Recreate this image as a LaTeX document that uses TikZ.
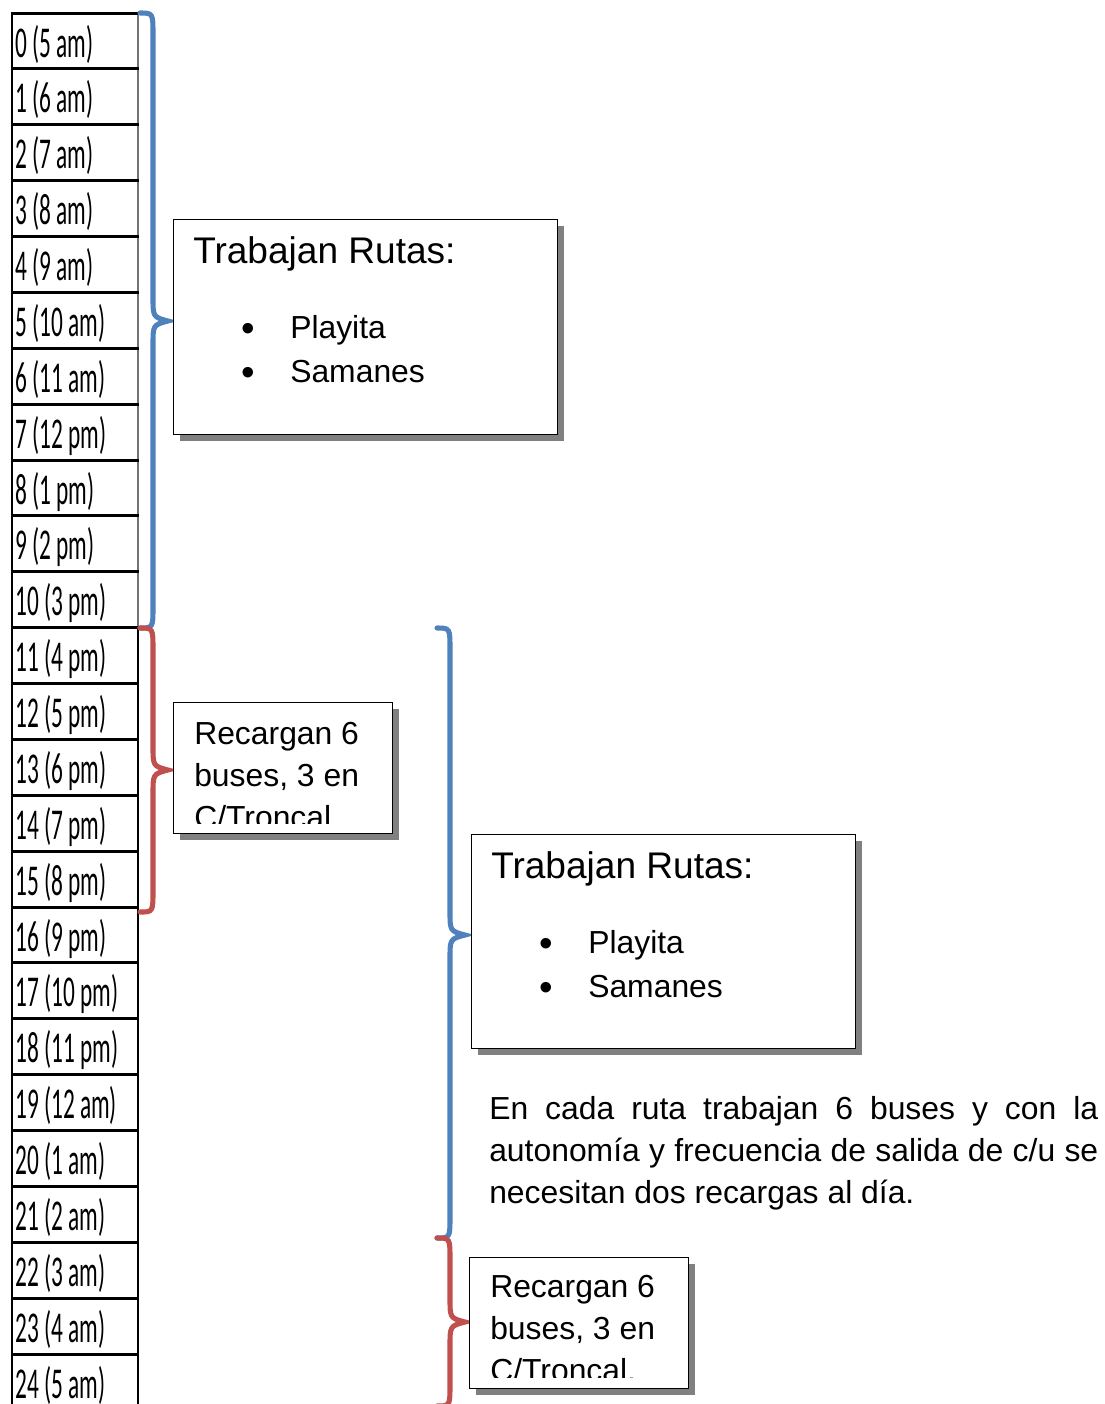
\documentclass[tikz,border=0pt]{standalone}
\usepackage{fontspec}
\setmainfont{Liberation Sans}
\newfontfamily\narrowfont[FakeStretch=0.53]{Carlito}
\usetikzlibrary{shadows}
\definecolor{bblue}{HTML}{4F81BD}
\definecolor{bred}{HTML}{C0504D}
\definecolor{shadowgray}{HTML}{808080}
\newcommand\bracepath[5]{%
\draw[#1, line width=3.8pt, line cap=round] (#2,#3) .. controls ({#2+13},#3) .. ({#2+13},{#3+22}) -- ({#2+13},{#4-24}) .. controls ({#2+13},{#4-4}) .. ({#2+28},#4) .. controls ({#2+13},{#4+4}) .. ({#2+13},{#4+24}) -- ({#2+13},{#5-22}) .. controls ({#2+13},#5) .. (#2,#5);}
\tikzset{
  rowtext/.style={anchor=base west, inner sep=0pt, font=\narrowfont\fontsize{33}{40}\selectfont},
  hline/.style={line width=2.25pt},
  boxstyle/.style={draw, fill=white, line width=1.1pt, anchor=north west, inner sep=0pt,
     drop shadow={shadow xshift=4.5pt, shadow yshift=-4.5pt, fill=shadowgray, opacity=1}},
  title/.style={anchor=base west, inner sep=0pt, font=\fontsize{27.8}{32}\selectfont},
  body/.style={anchor=base west, inner sep=0pt, font=\fontsize{23.9}{30}\selectfont},
  bul/.style={anchor=base, inner sep=0pt, font=\fontsize{29}{30}\selectfont},
}
\begin{document}
\begin{tikzpicture}[x=0.75pt,y=-0.75pt]
\useasboundingbox[fill=white] (0,0) rectangle (1104,1404);
% table
\draw[line width=0.9pt, black!55] (138,12) -- (138,628);
\draw[line width=1.1pt] (138,628) -- (138,1404);
\foreach \i/\t in {0/{0 (5 am)},1/{1 (6 am)},2/{2 (7 am)},3/{3 (8 am)},4/{4 (9 am)},5/{5 (10 am)},6/{6 (11 am)},7/{7 (12 pm)},8/{8 (1 pm)},9/{9 (2 pm)},10/{10 (3 pm)},11/{11 (4 pm)},12/{12 (5 pm)},13/{13 (6 pm)},14/{14 (7 pm)},15/{15 (8 pm)},16/{16 (9 pm)},17/{17 (10 pm)},18/{18 (11 pm)},19/{19 (12 am)},20/{20 (1 am)},21/{21 (2 am)},22/{22 (3 am)},23/{23 (4 am)},24/{24 (5 am)}}{
  \node[rowtext] (r\i) at (15,{13+55.875*\i+44}) {\t};
  \draw[hline] (11,{13+55.875*\i}) -- (139,{13+55.875*\i});
}
\draw[line width=1.9pt] (12,12) -- (12,1404);
% braces
\bracepath{bblue}{140}{13}{321}{628}
\bracepath{bred}{140}{628}{770}{912}
\bracepath{bblue}{437}{628}{935}{1238}
\bracepath{bred}{437}{1238}{1322}{1406}
% box 1
\node[boxstyle, minimum width=288pt, minimum height=161.25pt] (b1) at (173,219) {};
\node[title] (b1t) at (193,263) {Trabajan Rutas:};
\node[bul] (b1b1) at (248,341) {•};
\node[body] (b1i1) at (290,338) {Playita};
\node[bul] (b1b2) at (248,385) {•};
\node[body] (b1i2) at (290,382) {Samanes};
% box 2
\node[boxstyle, minimum width=164.25pt, minimum height=98.25pt] (b2) at (173,702) {};
\begin{scope}
\clip (174,703) rectangle (391,823);
\node[body] (b2l1) at (194,744) {Recargan 6};
\node[body] (b2l2) at (194,786) {buses, 3 en};
\node[body] (b2l3) at (194,828) {C/Troncal.};
\end{scope}
% box 3
\node[boxstyle, minimum width=288pt, minimum height=160.5pt] (b3) at (471,834) {};
\node[title] (b3t) at (491,878) {Trabajan Rutas:};
\node[bul] (b3b1) at (546,956) {•};
\node[body] (b3i1) at (588,953) {Playita};
\node[bul] (b3b2) at (546,1000) {•};
\node[body] (b3i2) at (588,997) {Samanes};
% paragraph
\node[body] (p1) at (489,1119) {\makebox[456.75pt][s]{En cada ruta trabajan 6 buses y con la}};
\node[body] (p2) at (489,1161) {\makebox[456.75pt][s]{autonomía y frecuencia de salida de c/u se}};
\node[body] (p3) at (489,1203) {necesitan dos recargas al día.};
% box 4
\node[boxstyle, minimum width=164.25pt, minimum height=98.25pt] (b4) at (469,1257) {};
\begin{scope}
\clip (470,1258) rectangle (687,1377);
\node[body] (b4l1) at (490,1297) {Recargan 6};
\node[body] (b4l2) at (490,1339) {buses, 3 en};
\node[body] (b4l3) at (490,1381) {C/Troncal.};
\end{scope}
\end{tikzpicture}
\end{document}
